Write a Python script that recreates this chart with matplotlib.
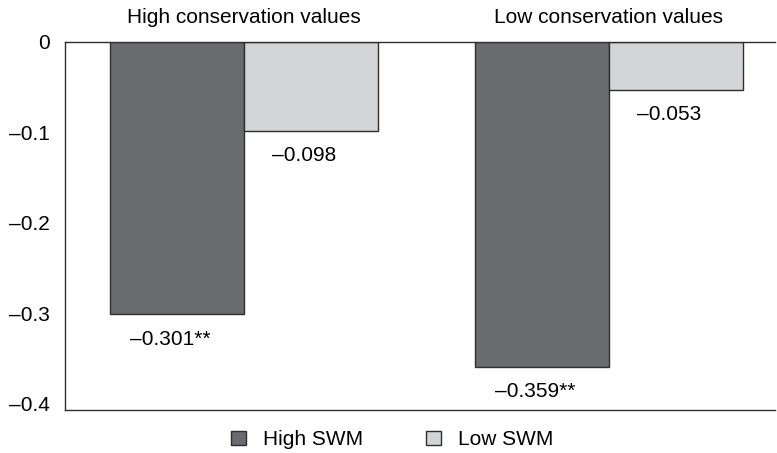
import numpy as np
import matplotlib.pyplot as plt
from matplotlib.patches import Patch

plt.rcParams['font.family'] = ['Liberation Sans', 'DejaVu Sans']

groups = ["High conservation values", "Low conservation values"]
series = ["High SWM", "Low SWM"]
high_swm = [-0.301, -0.359]
low_swm = [-0.098, -0.053]
high_labels = ["\u20130.301**", "\u20130.359**"]
low_labels = ["\u20130.098", "\u20130.053"]
yticks = [0, -0.1, -0.2, -0.3, -0.4]
ytick_labels = ["0", "\u20130.1", "\u20130.2", "\u20130.3", "\u20130.4"]

dark = "#6a6b6f"
light = "#d3d4d6"
edge = "#2e2e2e"
fs = 15

fig = plt.figure(figsize=(7.77, 4.53), dpi=100)
ax = fig.add_axes([0.0837, 0.095, 0.9137, 0.8123])

x = np.arange(len(groups))
w = 0.367

ax.bar(x - w / 2, high_swm, w, color=dark, edgecolor=edge, linewidth=1)
ax.bar(x + w / 2, low_swm, w, color=light, edgecolor=edge, linewidth=1)

# value labels under each bar
for i in range(len(groups)):
    ax.annotate(high_labels[i], (x[i] - w / 2, high_swm[i]), xytext=(-5, -18),
                textcoords="offset points", ha="center", va="center", fontsize=fs)
    ax.annotate(low_labels[i], (x[i] + w / 2, low_swm[i]), xytext=(-5, -18),
                textcoords="offset points", ha="center", va="center", fontsize=fs)

# group titles above the zero line
for i in range(len(groups)):
    ax.text(x[i], 1.066, groups[i], transform=ax.get_xaxis_transform(),
            ha="center", va="center", fontsize=fs)

ax.set_xlim(-0.49, 1.455)
ax.set_ylim(-0.407, 0)
ax.set_xticks([])
ax.set_yticks(yticks)
ax.set_yticklabels(ytick_labels, fontsize=fs)
ax.tick_params(axis="y", length=0, pad=11)

for s in ["left", "bottom", "top"]:
    ax.spines[s].set_color(edge)
    ax.spines[s].set_linewidth(1)
ax.spines["right"].set_visible(False)

handles = [Patch(facecolor=dark, edgecolor=edge), Patch(facecolor=light, edgecolor=edge)]
fig.legend(handles, series, loc="center", bbox_to_anchor=(0.505, 0.029), ncol=2,
           frameon=False, fontsize=fs, handlelength=0.7, handleheight=0.7,
           columnspacing=3.0, handletextpad=0.85, borderpad=0)

fig.savefig("out.png", dpi=100)
